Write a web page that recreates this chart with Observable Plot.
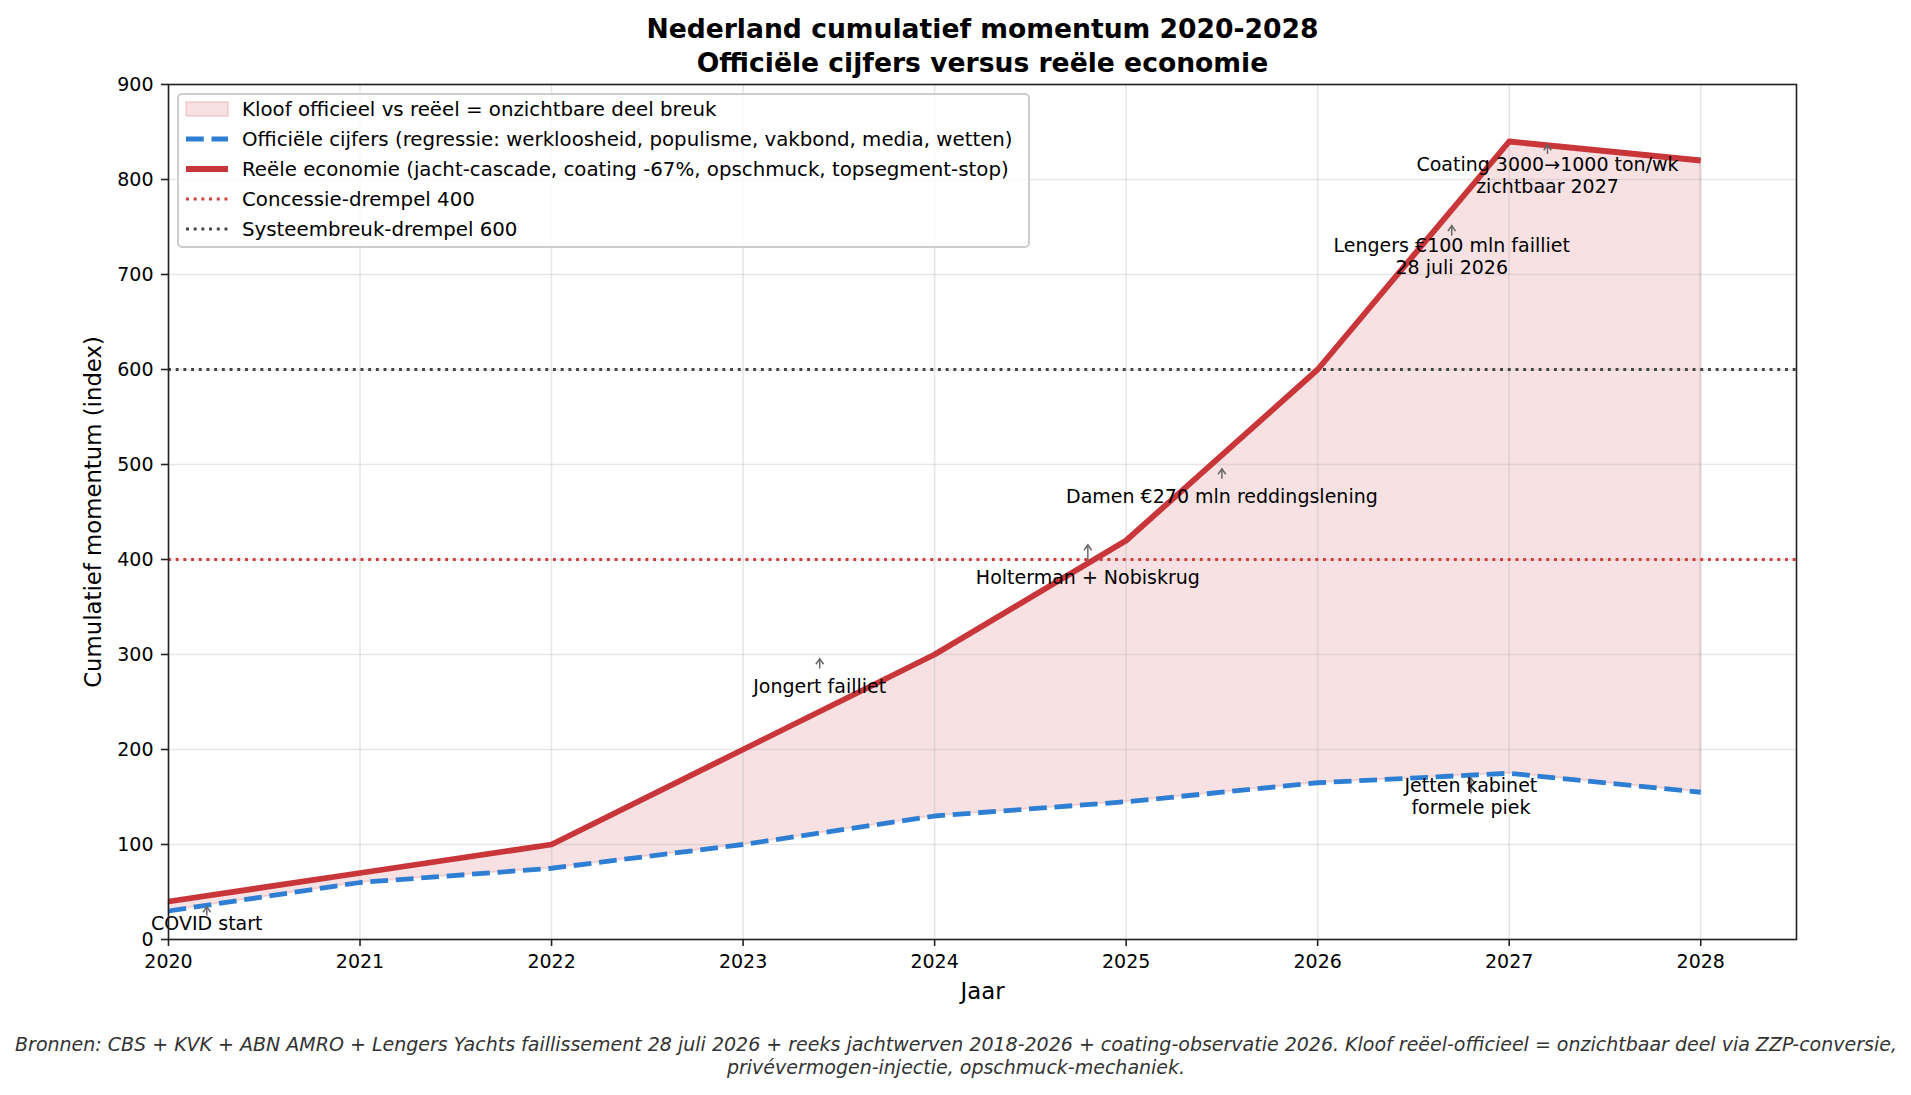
<!DOCTYPE html>
<html>
<head>
<meta charset="utf-8">
<script src="https://cdn.jsdelivr.net/npm/d3@7"></script>
<script src="https://cdn.jsdelivr.net/npm/@observablehq/plot@0.6"></script>
<style>
  html, body { margin: 0; padding: 0; background: white; }
  #chart { width: 1911px; height: 1095px; }
</style>
</head>
<body>
<div id="chart"></div>
<script>
// ---- data ----
const years = [2020, 2021, 2022, 2023, 2024, 2025, 2026, 2027, 2028];
const official = [30, 60, 75, 100, 130, 145, 165, 175, 155];
const real = [40, 70, 100, 200, 300, 420, 600, 840, 820];
const yTicks = [0, 100, 200, 300, 400, 500, 600, 700, 800, 900];
const thresholds = [400, 600];

const annotLabels = [
  "COVID start",
  "Jongert failliet",
  "Holterman + Nobiskrug",
  "Damen €270 mln reddingslening",
  "Lengers €100 mln failliet\n28 juli 2026",
  "Coating 3000→1000 ton/wk\nzichtbaar 2027",
  "Jetten kabinet\nformele piek"
];
const annotX = [2020.2, 2023.4, 2024.8, 2025.5, 2026.7, 2027.2, 2026.8];
const annotTextY = [10.5, 260, 374.7, 460, 701, 786, 131.6];
const annotArrowFrom = [25.3, 285.3, 399, 485, 741, 827, 153.7];
const annotArrowTo = [34.5, 295.5, 415.5, 495.5, 751.5, 836.5, 170];

const titleLines = ["Nederland cumulatief momentum 2020-2028", "Officiële cijfers versus reële economie"];
const xLabel = "Jaar";
const yLabel = "Cumulatief momentum (index)";
const caption = "Bronnen: CBS + KVK + ABN AMRO + Lengers Yachts faillissement 28 juli 2026 + reeks jachtwerven 2018-2026 + coating-observatie 2026. Kloof reëel-officieel = onzichtbaar deel via ZZP-conversie,\nprivévermogen-injectie, opschmuck-mechaniek.";
const legendLabels = [
  "Kloof officieel vs reëel = onzichtbare deel breuk",
  "Officiële cijfers (regressie: werkloosheid, populisme, vakbond, media, wetten)",
  "Reële economie (jacht-cascade, coating -67%, opschmuck, topsegment-stop)",
  "Concessie-drempel 400",
  "Systeembreuk-drempel 600"
];

// ---- tables ----
const table = years.map((y, i) => ({year: y, official: official[i], real: real[i]}));
const annots = annotLabels.map((t, i) => ({label: t, x: annotX[i], ty: annotTextY[i], from: annotArrowFrom[i], to: annotArrowTo[i]}));

const RED = "#c8363a";
const BLUE = "#2e7fd4";
const DRED = "#d33a3a";
const DGRAY = "#444444";
const ARROW = "#666666";
const FONT = "DejaVu Sans, sans-serif";

// open "->" arrowhead, tip at the symbol's origin, pointing up
const chevron = {
  draw(context) {
    context.moveTo(-3.8, 5.5);
    context.lineTo(0, 0);
    context.lineTo(3.8, 5.5);
  }
};

const chart = Plot.plot({
  width: 1911,
  height: 1095,
  marginTop: 84,
  marginRight: 115,
  marginBottom: 156,
  marginLeft: 168,
  style: {fontFamily: FONT, fontSize: "19px", color: "#000", background: "white"},
  x: {domain: [2020, 2028.5]},
  y: {domain: [0, 900]},
  marks: [
    Plot.areaY(table, {x: "year", y1: "official", y2: "real", fill: RED, fillOpacity: 0.15, stroke: RED, strokeOpacity: 0.15, strokeWidth: 1.9}),
    Plot.ruleX(years, {stroke: "#b0b0b0", strokeOpacity: 0.3, strokeWidth: 1.6}),
    Plot.ruleY(yTicks, {stroke: "#b0b0b0", strokeOpacity: 0.3, strokeWidth: 1.6}),
    Plot.ruleY([thresholds[0]], {stroke: DRED, strokeWidth: 2.9, strokeDasharray: "2.9,4.8"}),
    Plot.ruleY([thresholds[1]], {stroke: DGRAY, strokeWidth: 2.9, strokeDasharray: "2.9,4.8"}),
    Plot.line(table, {x: "year", y: "official", stroke: BLUE, strokeWidth: 4.8, strokeDasharray: "17.8,7.7", strokeLinecap: "butt"}),
    Plot.line(table, {x: "year", y: "real", stroke: RED, strokeWidth: 5.8, strokeLinecap: "butt"}),
    Plot.link(annots, {x1: "x", x2: "x", y1: "from", y2: "to", stroke: ARROW, strokeWidth: 1.5}),
    Plot.dot(annots, {x: "x", y: "to", symbol: chevron, r: 5, stroke: ARROW, fill: "none", strokeWidth: 1.5}),
    Plot.text(annots, {x: "x", y: "ty", text: "label", lineAnchor: "bottom", lineHeight: 1.16, fontSize: 19, fill: "#000"}),
    Plot.frame({stroke: "#222", strokeWidth: 1.6}),
    Plot.axisX({ticks: years, tickFormat: "d", tickSize: 7, tickPadding: 8, fontSize: 19, stroke: "#222", strokeWidth: 1.6, label: null}),
    Plot.axisY({ticks: yTicks, tickSize: 7, tickPadding: 8, fontSize: 19, stroke: "#222", strokeWidth: 1.6, label: null}),
    Plot.text([titleLines[0]], {text: d => d, frameAnchor: "top", dy: -47, lineAnchor: "bottom", fontSize: 26.6, fontWeight: "bold", fill: "#000"}),
    Plot.text([titleLines[1]], {text: d => d, frameAnchor: "top", dy: -13, lineAnchor: "bottom", fontSize: 26.6, fontWeight: "bold", fill: "#000"}),
    Plot.text([xLabel], {text: d => d, frameAnchor: "bottom", dy: 52, lineAnchor: "middle", fontSize: 22.8, fill: "#000"}),
    Plot.text([yLabel], {text: d => d, frameAnchor: "left", dx: -75, rotate: -90, textAnchor: "middle", lineAnchor: "middle", fontSize: 22.8, fill: "#000"}),
    Plot.text([caption], {text: d => d, frameAnchor: "bottom", dx: -26.5, dy: 134, lineAnchor: "bottom", lineHeight: 1.17, fontSize: 19, fontStyle: "italic", fill: "#333"})
  ]
});

document.getElementById("chart").appendChild(chart);

// ---- legend (drawn into the same svg) ----
const svg = d3.select(chart);
const lg = svg.append("g").attr("font-family", FONT).attr("font-size", 19.8).attr("text-anchor", "start");
const L = {x: 178, y: 94, w: 851, h: 153, rowY0: 109, rowDy: 30, hx0: 186, hx1: 228, tx: 242};
lg.append("rect").attr("x", L.x).attr("y", L.y).attr("width", L.w).attr("height", L.h)
  .attr("rx", 4).attr("fill", "white").attr("fill-opacity", 0.8).attr("stroke", "#cccccc").attr("stroke-width", 1.9);
const handles = [
  {type: "patch"},
  {type: "line", stroke: BLUE, width: 4.8, dash: "17.8,7.7"},
  {type: "line", stroke: RED, width: 5.8, dash: null},
  {type: "line", stroke: DRED, width: 2.9, dash: "2.9,4.8"},
  {type: "line", stroke: DGRAY, width: 2.9, dash: "2.9,4.8"}
];
legendLabels.forEach((lab, i) => {
  const cy = L.rowY0 + i * L.rowDy;
  const h = handles[i];
  if (h.type === "patch") {
    lg.append("rect").attr("x", L.hx0).attr("y", cy - 7).attr("width", L.hx1 - L.hx0).attr("height", 14)
      .attr("fill", RED).attr("fill-opacity", 0.15).attr("stroke", RED).attr("stroke-opacity", 0.15).attr("stroke-width", 1.9);
  } else {
    const ln = lg.append("line").attr("x1", L.hx0).attr("x2", L.hx1).attr("y1", cy).attr("y2", cy)
      .attr("stroke", h.stroke).attr("stroke-width", h.width).attr("stroke-linecap", "butt");
    if (h.dash) ln.attr("stroke-dasharray", h.dash);
  }
  lg.append("text").attr("x", L.tx).attr("y", cy).attr("dy", "0.35em").attr("fill", "#000").text(lab);
});
</script>
</body>
</html>
